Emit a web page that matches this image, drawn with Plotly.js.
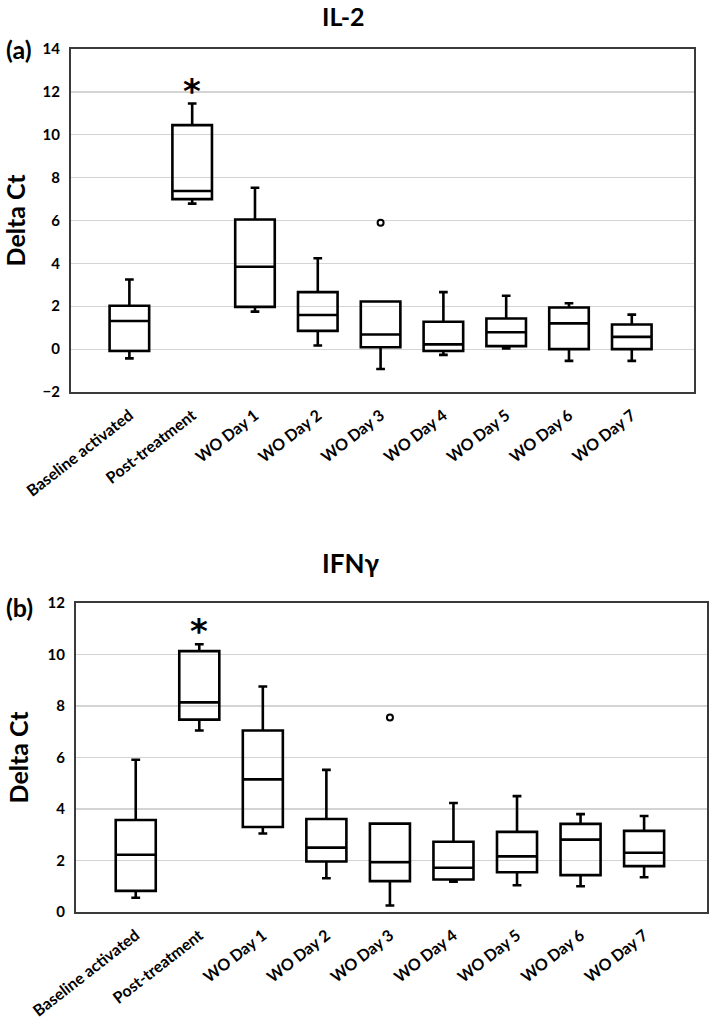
<!DOCTYPE html>
<html>
<head>
<meta charset="utf-8">
<script src="https://cdn.plot.ly/plotly-3.0.1.min.js"></script>
<style>body{margin:0;background:#fff}</style>
</head>
<body>
<div id="chart" style="width:709px;height:1024px"></div>
<script>
const categories = ["Baseline activated", "Post-treatment", "WO Day 1", "WO Day 2", "WO Day 3", "WO Day 4", "WO Day 5", "WO Day 6", "WO Day 7"];

// IL-2 (panel a)
const il2Lower  = [-0.43, 6.79, 1.75, 0.17, -0.93, -0.27, 0.03, -0.55, -0.55];
const il2Q1     = [-0.09, 7.00, 1.97, 0.85,  0.09, -0.09, 0.14,  0.00,  0.00];
const il2Median = [ 1.31, 7.38, 3.84, 1.59,  0.68,  0.22, 0.79,  1.20,  0.57];
const il2Q3     = [ 2.02, 10.45, 6.05, 2.66, 2.22,  1.28, 1.43,  1.94,  1.15];
const il2Upper  = [ 3.25, 11.46, 7.53, 4.24, 2.22,  2.66, 2.49,  2.14,  1.61];
const il2OutlierCats = ["WO Day 3"];
const il2OutlierVals = [5.9];

// IFN-gamma (panel b)
const ifnLower  = [0.55, 7.05, 3.05, 1.31, 0.25, 1.18, 1.04, 1.00, 1.35];
const ifnQ1     = [0.82, 7.47, 3.30, 1.96, 1.20, 1.26, 1.54, 1.43, 1.78];
const ifnMedian = [2.22, 8.14, 5.15, 2.50, 1.93, 1.72, 2.16, 2.81, 2.30];
const ifnQ3     = [3.57, 10.13, 7.05, 3.61, 3.43, 2.73, 3.11, 3.42, 3.15];
const ifnUpper  = [5.91, 10.40, 8.76, 5.52, 3.43, 4.23, 4.50, 3.80, 3.73];
const ifnOutlierCats = ["WO Day 3"];
const ifnOutlierVals = [7.55];

const sigCategory = "Post-treatment";

const FONT = "Lato, 'Open Sans', sans-serif";
const boxStyle = {
  type: "box",
  boxpoints: false,
  line: {color: "#000", width: 2.6},
  fillcolor: "rgba(255,255,255,0)",
  whiskerwidth: 0.22,
  showlegend: false,
  hoverinfo: "skip"
};

const traces = [
  Object.assign({}, boxStyle, {
    x: categories, q1: il2Q1, median: il2Median, q3: il2Q3,
    lowerfence: il2Lower, upperfence: il2Upper, xaxis: "x", yaxis: "y"
  }),
  {
    type: "scatter", mode: "markers", x: il2OutlierCats, y: il2OutlierVals,
    marker: {symbol: "circle-open", size: 6, color: "#000", line: {width: 2, color: "#000"}},
    showlegend: false, xaxis: "x", yaxis: "y"
  },
  Object.assign({}, boxStyle, {
    x: categories, q1: ifnQ1, median: ifnMedian, q3: ifnQ3,
    lowerfence: ifnLower, upperfence: ifnUpper, xaxis: "x2", yaxis: "y2"
  }),
  {
    type: "scatter", mode: "markers", x: ifnOutlierCats, y: ifnOutlierVals,
    marker: {symbol: "circle-open", size: 6, color: "#000", line: {width: 2, color: "#000"}},
    showlegend: false, xaxis: "x2", yaxis: "y2"
  }
];

const xCommon = {
  type: "category",
  showgrid: false,
  zeroline: false,
  showline: true,
  mirror: true,
  linecolor: "#3a3a3a",
  linewidth: 2,
  ticks: "",
  tickangle: -38,
  ticklabelstandoff: 6,
  tickfont: {family: FONT, size: 16, color: "#000", weight: "bold"}
};
const yCommon = {
  showgrid: true,
  gridcolor: "#d4d4d4",
  gridwidth: 1.2,
  zeroline: false,
  showline: true,
  mirror: true,
  linecolor: "#3a3a3a",
  linewidth: 2,
  ticks: "",
  dtick: 2,
  ticklabelstandoff: 6,
  tickfont: {family: FONT, size: 15, color: "#000", weight: "bold"},
  title: {text: "Delta Ct", font: {family: FONT, size: 25, color: "#000", weight: "bold"}, standoff: 12}
};

const layout = {
  width: 709,
  height: 1024,
  margin: {l: 0, r: 0, t: 0, b: 0},
  paper_bgcolor: "#fff",
  plot_bgcolor: "#fff",
  boxgap: 0.1,
  font: {family: FONT, color: "#000"},
  xaxis: Object.assign({}, xCommon, {domain: [0.1001, 0.9788], range: [-0.93, 8.99], anchor: "y"}),
  yaxis: Object.assign({}, yCommon, {domain: [0.6172, 0.9521], range: [-2, 14], anchor: "x"}),
  xaxis2: Object.assign({}, xCommon, {domain: [0.1072, 0.9972], range: [-0.94, 8.99], anchor: "y2"}),
  yaxis2: Object.assign({}, yCommon, {domain: [0.1094, 0.4111], range: [0, 12], anchor: "x2"}),
  annotations: [
    {text: "IL-2", xref: "paper", yref: "paper", x: 0.4838, y: 0.9842, xanchor: "center", yanchor: "middle",
     showarrow: false, font: {family: FONT, size: 25, color: "#000", weight: "bold"}},
    {text: "IFNγ", xref: "paper", yref: "paper", x: 0.4937, y: 0.4502, xanchor: "center", yanchor: "middle",
     showarrow: false, font: {family: FONT, size: 26, color: "#000", weight: "bold"}},
    {text: "(a)", xref: "paper", yref: "paper", x: 0.006, y: 0.952, xanchor: "left", yanchor: "middle",
     showarrow: false, font: {family: FONT, size: 25, color: "#000", weight: "bold"}},
    {text: "(b)", xref: "paper", yref: "paper", x: 0.006, y: 0.4072, xanchor: "left", yanchor: "middle",
     showarrow: false, font: {family: FONT, size: 25, color: "#000", weight: "bold"}},
    {text: "*", xref: "x", yref: "y", x: sigCategory, y: il2Upper[categories.indexOf(sigCategory)],
     xanchor: "center", yanchor: "bottom", yshift: -10, showarrow: false,
     font: {family: "'DejaVu Sans', sans-serif", size: 34, color: "#000", weight: "bold"}},
    {text: "*", xref: "x2", yref: "y2", x: sigCategory, y: ifnUpper[categories.indexOf(sigCategory)],
     xanchor: "center", yanchor: "bottom", yshift: -9, showarrow: false,
     font: {family: "'DejaVu Sans', sans-serif", size: 34, color: "#000", weight: "bold"}}
  ]
};

Plotly.newPlot("chart", traces, layout, {staticPlot: true, displayModeBar: false});
</script>
</body>
</html>
